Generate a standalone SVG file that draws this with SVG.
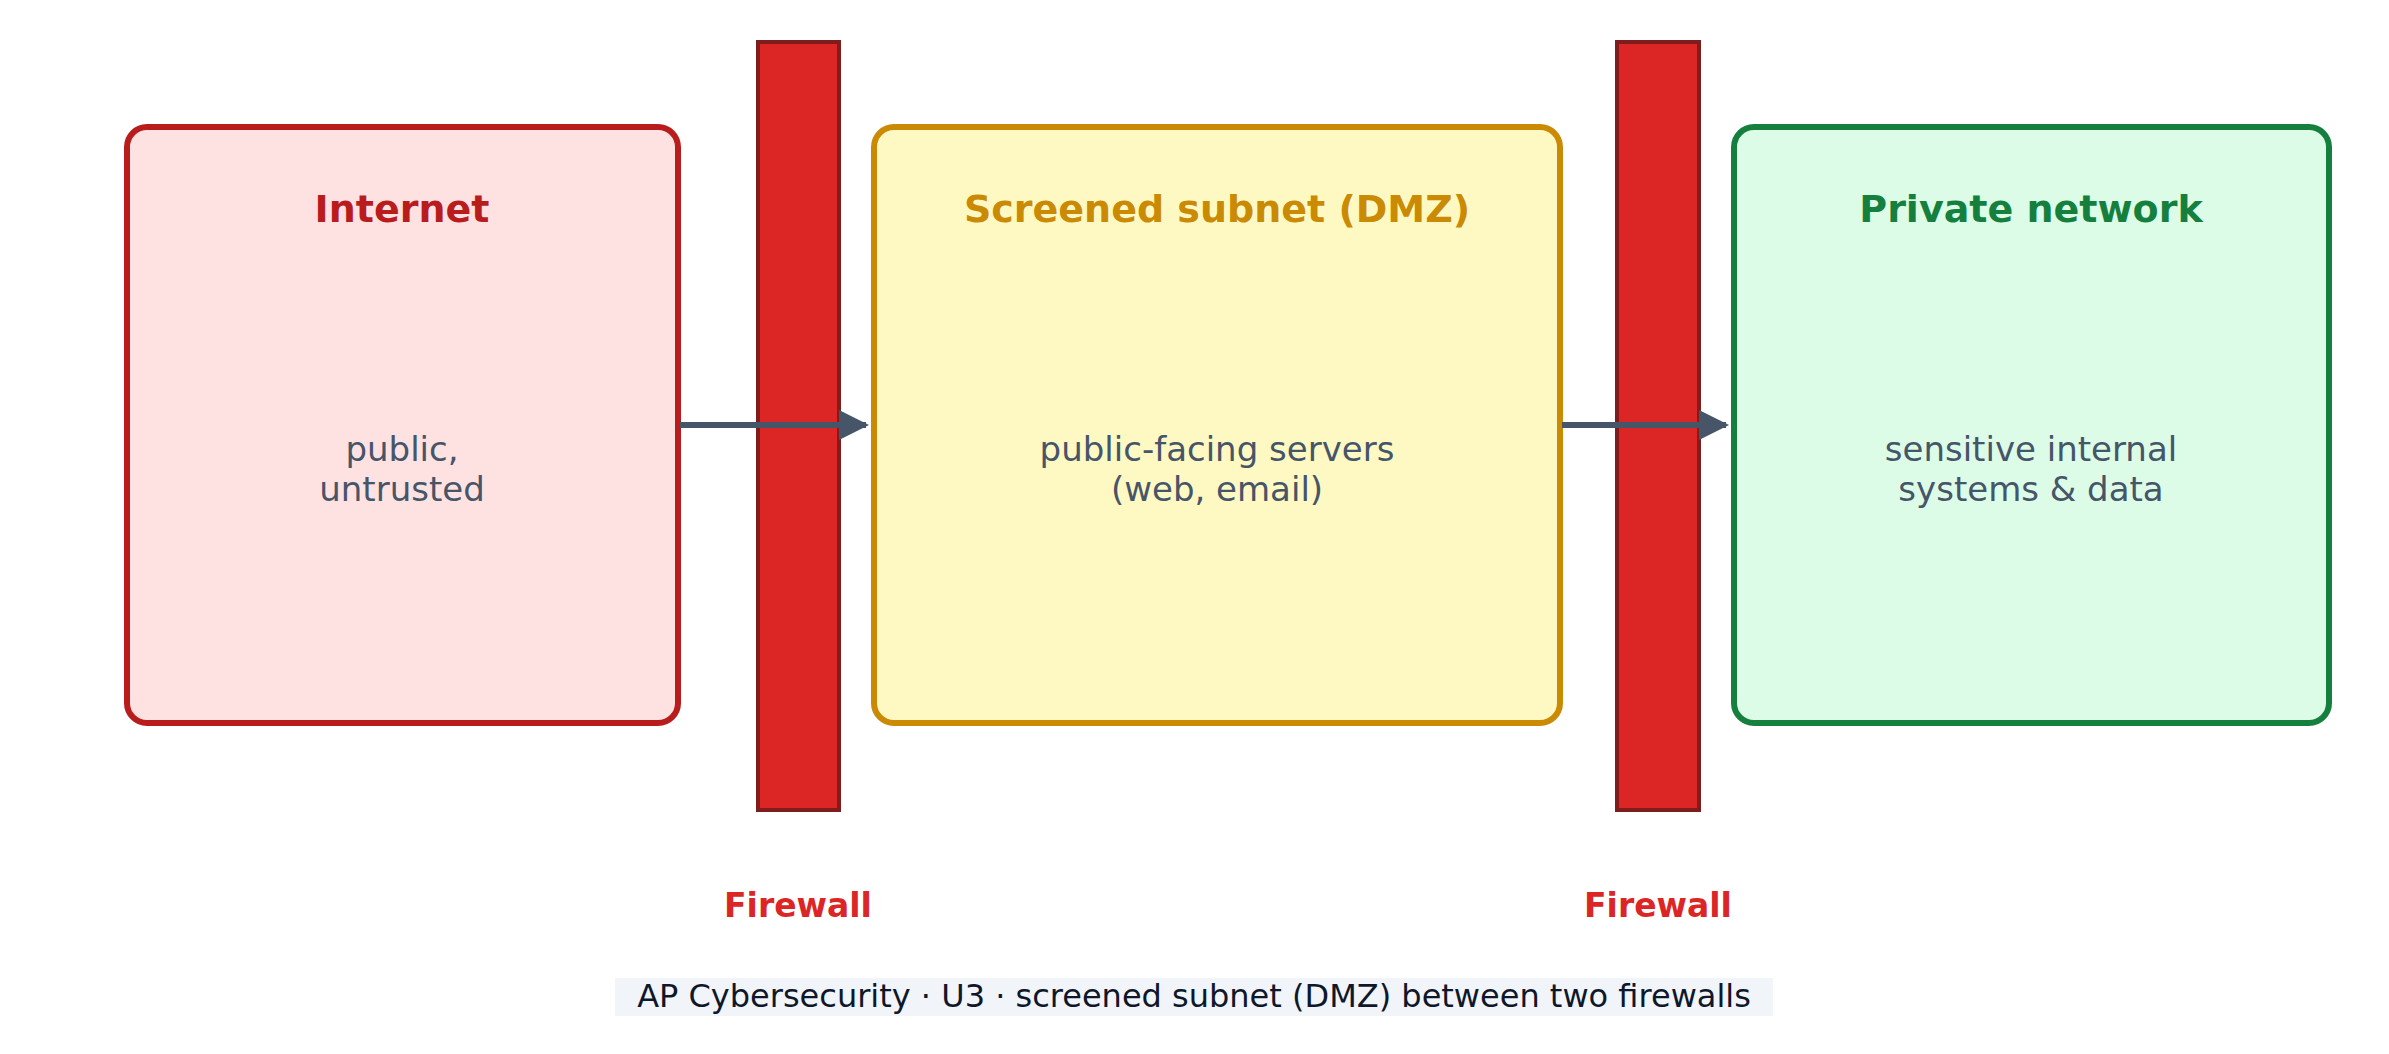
<svg xmlns="http://www.w3.org/2000/svg" width="2389" height="1054" viewBox="0 0 2389 1054">
<style>
text{font-family:"DejaVu Sans",sans-serif;text-anchor:middle}
.t{font-size:38px;font-weight:bold}
.b{font-size:34px;fill:#475569}
.fw{fill:#dc2626;stroke:#7f1d1d;stroke-width:4}
.fl{font-size:33px;font-weight:bold;fill:#dc2626}
.c{stroke:#475569;stroke-width:6;fill:none}
</style>
<defs><marker id="a" viewBox="0 0 10 10" refX="9" refY="5" markerWidth="5" markerHeight="5" orient="auto" markerUnits="strokeWidth"><path d="M0,0L10,5L0,10z" fill="#475569"/></marker></defs>
<rect width="2389" height="1054" fill="#fff"/>
<g id="internet"><rect x="127" y="127" width="551" height="596" rx="20" fill="#fee2e2" stroke="#b91c1c" stroke-width="6"/>
<text class="t" x="402" y="222" fill="#b91c1c">Internet</text>
<text class="b" x="402" y="461">public,</text><text class="b" x="402" y="501">untrusted</text></g>
<g id="dmz"><rect x="874" y="127" width="686" height="596" rx="20" fill="#fef9c3" stroke="#ca8a04" stroke-width="6"/>
<text class="t" x="1217" y="222" fill="#ca8a04">Screened subnet (DMZ)</text>
<text class="b" x="1217" y="461">public-facing servers</text><text class="b" x="1217" y="501">(web, email)</text></g>
<g id="private"><rect x="1734" y="127" width="595" height="596" rx="20" fill="#dcfce7" stroke="#15803d" stroke-width="6"/>
<text class="t" x="2031" y="222" fill="#15803d">Private network</text>
<text class="b" x="2031" y="461">sensitive internal</text><text class="b" x="2031" y="501">systems &amp; data</text></g>
<g id="fw1"><rect class="fw" x="758" y="42" width="81" height="768"/><text class="fl" x="798" y="917">Firewall</text></g>
<g id="fw2"><rect class="fw" x="1617" y="42" width="82" height="768"/><text class="fl" x="1658" y="917">Firewall</text></g>
<g id="connectors">
<line class="c" x1="680" y1="425" x2="866" y2="425" marker-end="url(#a)"/>
<line class="c" x1="1562" y1="425" x2="1726" y2="425" marker-end="url(#a)"/>
</g>
<g id="caption"><rect x="615" y="978" width="1158" height="38" fill="#f1f5f9"/>
<text x="1194" y="1007" font-size="32" fill="#0f172a">AP Cybersecurity · U3 · screened subnet (DMZ) between two firewalls</text></g>
</svg>
